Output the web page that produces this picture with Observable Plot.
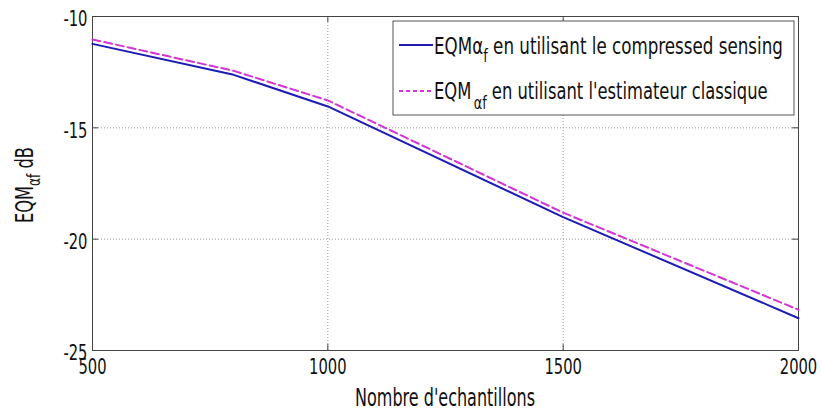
<!DOCTYPE html>
<html><head><meta charset="utf-8">
<script src="https://cdn.jsdelivr.net/npm/d3@7"></script>
<script src="https://cdn.jsdelivr.net/npm/@observablehq/plot@0.6"></script>
<style>body{margin:0;background:#fff}</style>
</head><body><div id="chart"></div>
<script>
// Data
const samples = [500, 800, 1000, 1500, 2000];
const eqmCS = [-11.23, -12.62, -14.04, -19.01, -23.55];      // compressed sensing
const eqmClassic = [-11.03, -12.44, -13.77, -18.81, -23.17]; // estimateur classique
const xTicks = [500, 1000, 1500, 2000];
const yTicks = [-25, -20, -15, -10];
const xLabel = "Nombre d'echantillons";
const legendCS = ["EQMα", "f", " en utilisant le compressed sensing"];
const legendClassic = ["EQM", "αf", " en utilisant l'estimateur classique"];

const BLUE = "#1c1cb4", MAG = "#d434d4", AX = "#444";
const FONT = `"DejaVu Sans Condensed","Liberation Sans",sans-serif`;
const W = 821, H = 413, ML = 92, MR = 23, MT = 16, MB = 63;
const PW = W - ML - MR, PH = H - MT - MB, TK = 6;

const svg = Plot.plot({
  width: W, height: H,
  marginLeft: ML, marginRight: MR, marginTop: MT, marginBottom: MB,
  style: {fontFamily: FONT, fontSize: "21px", background: "#fff", color: "#111"},
  x: {domain: [500, 2000]},
  y: {domain: [-25, -10]},
  marks: [
    Plot.gridX(xTicks.slice(1, -1), {stroke: "#999", strokeOpacity: 1, strokeDasharray: "1,2"}),
    Plot.gridY(yTicks.slice(1, -1), {stroke: "#999", strokeOpacity: 1, strokeDasharray: "1,2"}),
    Plot.ruleX(xTicks, {stroke: AX, insetTop: PH - TK}),
    Plot.ruleX(xTicks, {stroke: AX, insetBottom: PH - TK}),
    Plot.ruleY(yTicks, {stroke: AX, insetRight: PW - TK}),
    Plot.ruleY(yTicks, {stroke: AX, insetLeft: PW - TK}),
    Plot.frame({stroke: AX}),
    Plot.line(samples, {x: d => d, y: eqmClassic, stroke: MAG, strokeWidth: 2, strokeDasharray: "8,4"}),
    Plot.line(samples, {x: d => d, y: eqmCS, stroke: BLUE, strokeWidth: 2}),
    Plot.axisX({ticks: xTicks, tickSize: 0, tickPadding: 9, tickFormat: d => String(d), label: null}),
    Plot.axisY({ticks: yTicks, tickSize: 0, tickPadding: 5, dy: 3, tickFormat: d => String(d), label: null})
  ]
});
document.getElementById("chart").appendChild(svg);

const root = d3.select(svg);
// condense tick labels horizontally around their anchor point
root.selectAll("[aria-label$='tick label'] text").each(function() {
  const tr = this.getAttribute("transform") || "";
  this.setAttribute("transform", `${tr} scale(0.78,1)`);
});

function fitX(sel, tx, ty, target, extra = "") {
  const w = sel.node().getBBox().width;
  sel.attr("transform", `translate(${tx},${ty}) ${extra} scale(${target / w},1)`);
}

// x label
const xl = root.append("text").attr("x", 0).attr("y", 0).attr("text-anchor", "middle")
  .attr("font-size", 24).attr("fill", "#111").text(xLabel);
fitX(xl, ML + PW / 2, 406, 180);

// y label
const yl = root.append("text").attr("x", 0).attr("y", 0)
  .attr("text-anchor", "middle").attr("font-size", 24).attr("fill", "#111");
yl.append("tspan").text("EQM");
yl.append("tspan").attr("dy", 7).attr("font-size", 18).text("αf");
yl.append("tspan").attr("dy", -7).text(" dB");
fitX(yl, 33, 185, 76, "rotate(-90)");

// legend
const lg = root.append("g");
lg.append("rect").attr("x", 393).attr("y", 21).attr("width", 401).attr("height", 94)
  .attr("fill", "#fff").attr("stroke", "#555");
lg.append("line").attr("x1", 399).attr("x2", 433).attr("y1", 45).attr("y2", 45)
  .attr("stroke", BLUE).attr("stroke-width", 2);
lg.append("line").attr("x1", 399).attr("x2", 433).attr("y1", 91).attr("y2", 91)
  .attr("stroke", MAG).attr("stroke-width", 2).attr("stroke-dasharray", "4,3");
const t1 = lg.append("text").attr("x", 0).attr("y", 0).attr("text-anchor", "start")
  .attr("font-size", 23).attr("fill", "#111");
t1.append("tspan").text(legendCS[0]);
t1.append("tspan").attr("dy", 8).attr("font-size", 18).text(legendCS[1]);
t1.append("tspan").attr("dy", -8).text(legendCS[2]);
fitX(t1, 434, 54, 349);
const t2 = lg.append("text").attr("x", 0).attr("y", 0).attr("text-anchor", "start")
  .attr("font-size", 23).attr("fill", "#111");
t2.append("tspan").text(legendClassic[0]);
t2.append("tspan").attr("dy", 10).attr("dx", 3).attr("font-size", 18).text(legendClassic[1]);
t2.append("tspan").attr("dy", -10).text(legendClassic[2]);
fitX(t2, 434, 99, 334);
</script>
</body></html>
